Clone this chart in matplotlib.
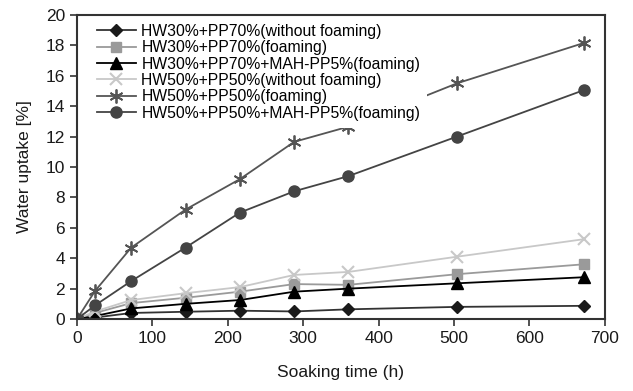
import numpy as np
import matplotlib
matplotlib.use('Agg')
import matplotlib.pyplot as plt

plt.rcParams['font.family'] = ['Liberation Sans', 'DejaVu Sans']

hours = [0, 24, 72, 144, 216, 288, 360, 504, 672]

hw30_nofoam = [0, 0.1, 0.4, 0.48, 0.55, 0.5, 0.64, 0.8, 0.87]
hw30_foam = [0, 0.4, 1.05, 1.4, 1.8, 2.3, 2.25, 2.95, 3.6]
hw30_mah = [0, 0.2, 0.7, 1.0, 1.25, 1.8, 2.0, 2.35, 2.75]
hw50_nofoam = [0, 0.5, 1.25, 1.7, 2.1, 2.9, 3.1, 4.1, 5.25]
hw50_foam = [0, 1.85, 4.7, 7.2, 9.2, 11.65, 12.65, 15.5, 18.15]
hw50_mah = [0, 0.9, 2.5, 4.7, 7.0, 8.4, 9.4, 12.0, 15.05]

labels = ['HW30%+PP70%(without foaming)',
          'HW30%+PP70%(foaming)',
          'HW30%+PP70%+MAH-PP5%(foaming)',
          'HW50%+PP50%(without foaming)',
          'HW50%+PP50%(foaming)',
          'HW50%+PP50%+MAH-PP5%(foaming)']

fig = plt.figure(figsize=(6.33, 3.91), dpi=100)
ax = fig.add_axes([0.1216, 0.184, 0.834, 0.778])

ax.plot(hours, hw30_nofoam, color='#333333', marker='D', ms=6, mfc='#1a1a1a', mec='#1a1a1a', lw=1.3, label=labels[0])
ax.plot(hours, hw30_foam, color='#9a9a9a', marker='s', ms=7, mfc='#9a9a9a', mec='#9a9a9a', lw=1.3, label=labels[1])
ax.plot(hours, hw30_mah, color='#000000', marker='^', ms=8, mfc='#000000', mec='#000000', lw=1.3, label=labels[2])
ax.plot(hours, hw50_nofoam, color='#c8c8c8', marker='x', ms=9, mew=1.5, mec='#c8c8c8', lw=1.3, label=labels[3])
ax.plot(hours, hw50_foam, color='#555555', marker=(6, 2, 0), ms=10, mew=1.3, mec='#555555', lw=1.3, label=labels[4])
ax.plot(hours, hw50_mah, color='#444444', marker='o', ms=8, mfc='#444444', mec='#444444', lw=1.3, label=labels[5])

ax.set_xlim(0, 700)
ax.set_ylim(0, 20)
ax.set_xticks(np.arange(0, 701, 100))
ax.set_yticks(np.arange(0, 21, 2))
ax.tick_params(direction='out', length=5, width=1.2, colors='#333333', labelsize=12.5, labelcolor='#1a1a1a')
for s in ax.spines.values():
    s.set_color('#333333')
    s.set_linewidth(1.5)

ax.set_xlabel('Soaking time (h)', fontsize=12.5, color='#1a1a1a', labelpad=14)
ax.set_ylabel('Water uptake [%]', fontsize=12.5, color='#1a1a1a', labelpad=10)

leg = ax.legend(loc='upper left', bbox_to_anchor=(0.024, 0.994), fontsize=11.3, frameon=True,
                facecolor='white', edgecolor='none', framealpha=1, fancybox=False,
                handlelength=2.5, handletextpad=0.35, labelspacing=0.09, borderpad=0.45,
                borderaxespad=0.0)

fig.savefig('out.png', dpi=100)
